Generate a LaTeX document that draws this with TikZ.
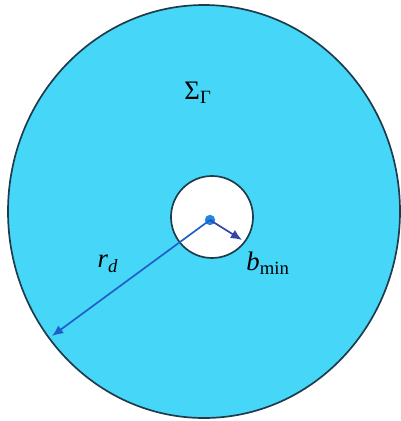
\documentclass[tikz,border=0pt]{standalone}
\usepackage{fontspec}
\setmainfont{Liberation Serif}[ItalicFont={Liberation Serif Italic}]
\usepackage{tikz}
\usetikzlibrary{arrows.meta}
\definecolor{discfill}{HTML}{46D6F8}
\definecolor{rimline}{HTML}{1E3C4C}
\definecolor{rayblue}{HTML}{1F5FCC}
\definecolor{raydark}{HTML}{3346A8}
\definecolor{dotblue}{HTML}{1E88E0}
\tikzset{
    disc/.style={draw=rimline, line width=1.2pt, fill=discfill},
    hole/.style={draw=rimline, line width=1.2pt, fill=white},
    ray/.style={-{Latex[length=2.8mm, width=2.4mm]}, line width=1.2pt, rayblue},
    lbl/.style={font=\fontsize{19}{21}\selectfont, inner sep=1pt}
}

\begin{document}
\begin{tikzpicture}[x=0.025cm, y=-0.025cm]
        \useasboundingbox (0,0) rectangle (401,421);
        \draw[disc] (204,211.5) ellipse [x radius=196, y radius=206.5];
        \draw[hole] (212,217) circle [radius=41];
        \node[circle, fill=dotblue, inner sep=0pt, minimum size=0.26cm] (ctr) at (210,220) {};
        \coordinate (rtip) at (52,336);
        \coordinate (btip) at (242,240);
        \draw[ray] (ctr.center) -- (rtip);
        \draw[ray, raydark] (ctr.center) -- (btip);
        \node[lbl] (sig) at (198,93) {Σ\textsubscript{Γ}};
        \node[lbl] (rd) at (108,264) {\textit{r}\textsubscript{\textit{d}}};
        \node[lbl] (bmin) at (268,263) {\textit{b}\textsubscript{min}};
    \end{tikzpicture}
\end{document}
